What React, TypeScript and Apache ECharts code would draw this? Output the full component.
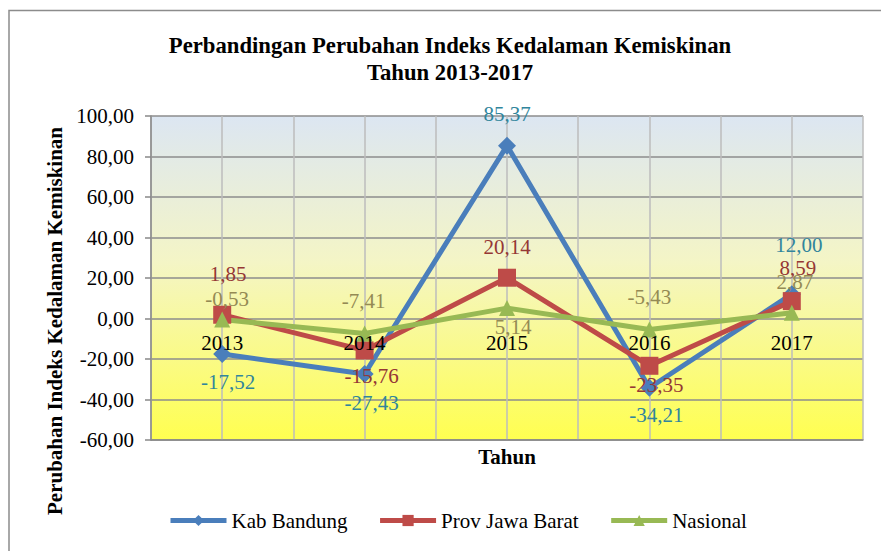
import React, { useEffect, useRef } from "react";
import * as echarts from "echarts";

const YEARS = ["2013", "2014", "2015", "2016", "2017"];
const KAB_BANDUNG = [-17.52, -27.43, 85.37, -34.21, 12.0];
const PROV_JABAR = [1.85, -15.76, 20.14, -23.35, 8.59];
const NASIONAL = [-0.53, -7.41, 5.14, -5.43, 2.87];
const SERIES_NAMES = ["Kab Bandung", "Prov Jawa Barat", "Nasional"];
const Y_MIN = -60;
const Y_MAX = 100;
const Y_STEP = 20;

// label placement (pixel offsets of each value label from its point)
const KAB_LABEL_OFFSET = [[6, 28], [7, 29], [0, -32], [7, 27], [7, -49]];
const PROV_LABEL_OFFSET = [[6, -41], [7, 26], [0, -31], [7, 19], [6, -33]];
const NAS_LABEL_OFFSET = [[5, -21], [-1, -33], [6, 19], [0, -32], [3, -31]];

const FONT = "'Liberation Serif', 'Times New Roman', serif";
const fmt = (v: number) => v.toFixed(2).replace(".", ",");

const GRID_TOP = 116;
const GRID_BOTTOM = 111;
const CHART_H = 551;

function buildSeries(
  name: string,
  values: number[],
  offsets: number[][],
  color: string,
  labelColor: string,
  symbol: string,
  symbolSize: number
) {
  return {
    name,
    type: "line",
    xAxisIndex: 0,
    symbol,
    symbolSize,
    lineStyle: { color, width: 5 },
    itemStyle: { color, borderWidth: 0 },
    data: values.map((v, i) => ({
      value: [i, v],
      label: {
        show: true,
        position: "inside",
        offset: offsets[i],
        formatter: fmt(v),
        color: labelColor,
        fontFamily: FONT,
        fontSize: 21,
      },
    })),
  };
}

export default function App() {
  const ref = useRef<HTMLDivElement>(null);
  useEffect(() => {
    document.body.style.margin = "0";
    const chart = echarts.init(ref.current!, null, { renderer: "svg" });
    // pixel distance from the bottom of the plot up to the zero line
    const plotH = CHART_H - GRID_TOP - GRID_BOTTOM;
    const zeroFromBottom = (plotH * (0 - Y_MIN)) / (Y_MAX - Y_MIN);
    const yearFormatter = (v: number) => {
      const r = Math.round(v);
      return Math.abs(v - r) < 1e-6 && r >= 0 && r < YEARS.length ? YEARS[r] : "";
    };
    chart.setOption({
      animation: false,
      backgroundColor: "#ffffff",
      grid: {
        left: 151,
        right: 18,
        top: GRID_TOP,
        bottom: GRID_BOTTOM,
        show: true,
        borderWidth: 0,
        backgroundColor: new echarts.graphic.LinearGradient(0, 0, 0, 1, [
          { offset: 0, color: "#DCE6F2" },
          { offset: 0.45, color: "#F4F5C6" },
          { offset: 1, color: "#FFFF50" },
        ]),
      },
      legend: {
        left: 163,
        top: 505,
        itemWidth: 56,
        itemHeight: 14,
        itemGap: 30,
        data: SERIES_NAMES,
        lineStyle: { width: 5 },
        textStyle: { fontFamily: FONT, fontSize: 21, color: "#000" },
      },
      xAxis: [
        {
          type: "value",
          min: -0.5,
          max: 4.5,
          interval: 0.5,
          axisLine: { onZero: false, lineStyle: { color: "#888888", width: 1.5 } },
          axisTick: { show: false },
          axisLabel: { show: false },
          splitLine: { show: true, lineStyle: { color: "#BDBDBD", width: 1.5 } },
        },
        {
          type: "value",
          position: "bottom",
          z: 10,
          min: -0.5,
          max: 4.5,
          interval: 0.5,
          axisLine: { show: false, onZero: false },
          axisTick: { show: false },
          splitLine: { show: false },
          axisLabel: {
            margin: 14 - zeroFromBottom,
            color: "#000",
            fontFamily: FONT,
            fontSize: 21,
            formatter: yearFormatter,
          },
        },
      ],
      yAxis: {
        type: "value",
        min: Y_MIN,
        max: Y_MAX,
        interval: Y_STEP,
        axisLine: { show: true, onZero: false, lineStyle: { color: "#888888", width: 1.5 } },
        axisTick: { show: true, length: 6, lineStyle: { color: "#888888", width: 1.5 } },
        axisLabel: {
          margin: 17,
          color: "#000",
          fontFamily: FONT,
          fontSize: 21,
          formatter: (v: number) => fmt(v),
        },
        splitLine: { show: true, lineStyle: { color: "#8C8C8C", width: 1.5 } },
      },
      series: [
        buildSeries(SERIES_NAMES[0], KAB_BANDUNG, KAB_LABEL_OFFSET, "#4A7EBB", "#31859C", "diamond", 18),
        buildSeries(SERIES_NAMES[1], PROV_JABAR, PROV_LABEL_OFFSET, "#BE4B48", "#953735", "rect", 18),
        buildSeries(SERIES_NAMES[2], NASIONAL, NAS_LABEL_OFFSET, "#98B954", "#948A54", "triangle", 16),
      ],
      graphic: [
        {
          type: "rect",
          shape: { x: 9, y: 10.5, width: 900, height: 600 },
          style: { fill: "none", stroke: "#8C8C8C", lineWidth: 1.5 },
          silent: true,
        },
        {
          type: "text",
          x: 450,
          y: 45,
          style: {
            text: "Perbandingan Perubahan Indeks Kedalaman Kemiskinan",
            font: `bold 22.7px ${FONT}`,
            fill: "#000",
            align: "center",
            verticalAlign: "middle",
          },
        },
        {
          type: "text",
          x: 450,
          y: 72,
          style: {
            text: "Tahun 2013-2017",
            font: `bold 22.7px ${FONT}`,
            fill: "#000",
            align: "center",
            verticalAlign: "middle",
          },
        },
        {
          type: "text",
          x: 507,
          y: 457,
          style: {
            text: "Tahun",
            font: `bold 21px ${FONT}`,
            fill: "#000",
            align: "center",
            verticalAlign: "middle",
          },
        },
        {
          type: "text",
          x: 55,
          y: 321,
          rotation: Math.PI / 2,
          style: {
            text: "Perubahan Indeks Kedalaman Kemiskinan",
            font: `bold 21px ${FONT}`,
            fill: "#000",
            align: "center",
            verticalAlign: "middle",
          },
        },
      ],
    });
    return () => chart.dispose();
  }, []);
  return (
    <div
      ref={ref}
      style={{ position: "absolute", left: 0, top: 0, width: 881, height: 551 }}
    />
  );
}
